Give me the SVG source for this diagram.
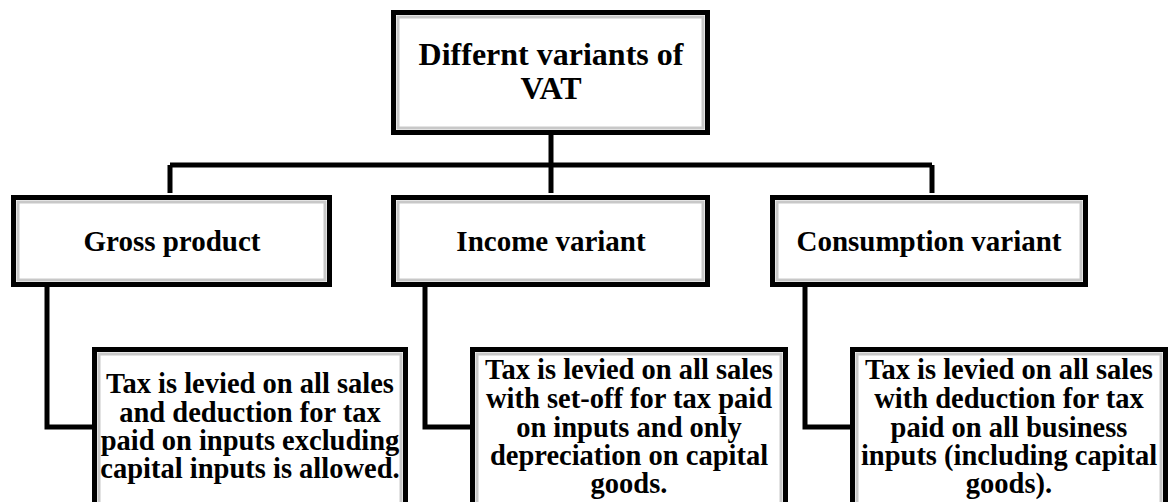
<svg xmlns="http://www.w3.org/2000/svg" width="1173" height="502" viewBox="0 0 1173 502">
<style>
.box{fill:#fff;stroke:#000;stroke-width:5}
.bev{fill:none;stroke:#c8c8c8;stroke-width:3}
.con{fill:none;stroke:#000;stroke-width:5;stroke-linejoin:miter}
text{font-family:"Liberation Serif","Times New Roman",serif;font-weight:bold;fill:#000;text-anchor:middle}
.t1{font-size:32px}
.t2{font-size:29px}
.t3{font-size:28.5px}
</style>
<rect width="1173" height="502" fill="#fff"/>
<g id="connectors">
<path class="con" d="M551,135 V193"/>
<path class="con" d="M170,165 H932"/>
<path class="con" d="M170,165 V193"/>
<path class="con" d="M932,165 V193"/>
<path class="con" d="M47,287 V427 H92"/>
<path class="con" d="M425,287 V427 H470"/>
<path class="con" d="M805,287 V427 H850"/>
</g>
<g id="root">
<rect class="box" x="393.5" y="12.5" width="314" height="120"/>
<rect class="bev" x="398" y="17" width="305" height="111"/>
<text class="t1" x="551" y="65">Differnt variants of</text>
<text class="t1" x="551" y="99">VAT</text>
</g>
<g id="gross">
<rect class="box" x="13.5" y="197.5" width="316" height="87"/>
<rect class="bev" x="18" y="202" width="307" height="78"/>
<text class="t2" x="172" y="251">Gross product</text>
</g>
<g id="income">
<rect class="box" x="393.5" y="197.5" width="314" height="87"/>
<rect class="bev" x="398" y="202" width="305" height="78"/>
<text class="t2" x="551" y="251">Income variant</text>
</g>
<g id="consumption">
<rect class="box" x="772.5" y="197.5" width="313" height="87"/>
<rect class="bev" x="777" y="202" width="304" height="78"/>
<text class="t2" x="929" y="251">Consumption variant</text>
</g>
<g id="gross-desc">
<rect class="box" x="94.5" y="349.5" width="311" height="160"/>
<rect class="bev" x="99" y="354" width="302" height="160"/>
<text class="t3" x="250" y="393">Tax is levied on all sales</text>
<text class="t3" x="250" y="422">and deduction for tax</text>
<text class="t3" x="250" y="450">paid on inputs excluding</text>
<text class="t3" x="250" y="478">capital inputs is allowed.</text>
</g>
<g id="income-desc">
<rect class="box" x="472.5" y="349.5" width="313" height="160"/>
<rect class="bev" x="477" y="354" width="304" height="160"/>
<text class="t3" x="629" y="379">Tax is levied on all sales</text>
<text class="t3" x="629" y="408">with set-off for tax paid</text>
<text class="t3" x="629" y="437">on inputs and only</text>
<text class="t3" x="629" y="465">depreciation on capital</text>
<text class="t3" x="629" y="493">goods.</text>
</g>
<g id="consumption-desc">
<rect class="box" x="852.5" y="349.5" width="313" height="160"/>
<rect class="bev" x="857" y="354" width="304" height="160"/>
<text class="t3" x="1009" y="379">Tax is levied on all sales</text>
<text class="t3" x="1009" y="408">with deduction for tax</text>
<text class="t3" x="1009" y="437">paid on all business</text>
<text class="t3" x="1009" y="465">inputs (including capital</text>
<text class="t3" x="1009" y="493">goods).</text>
</g>
</svg>
